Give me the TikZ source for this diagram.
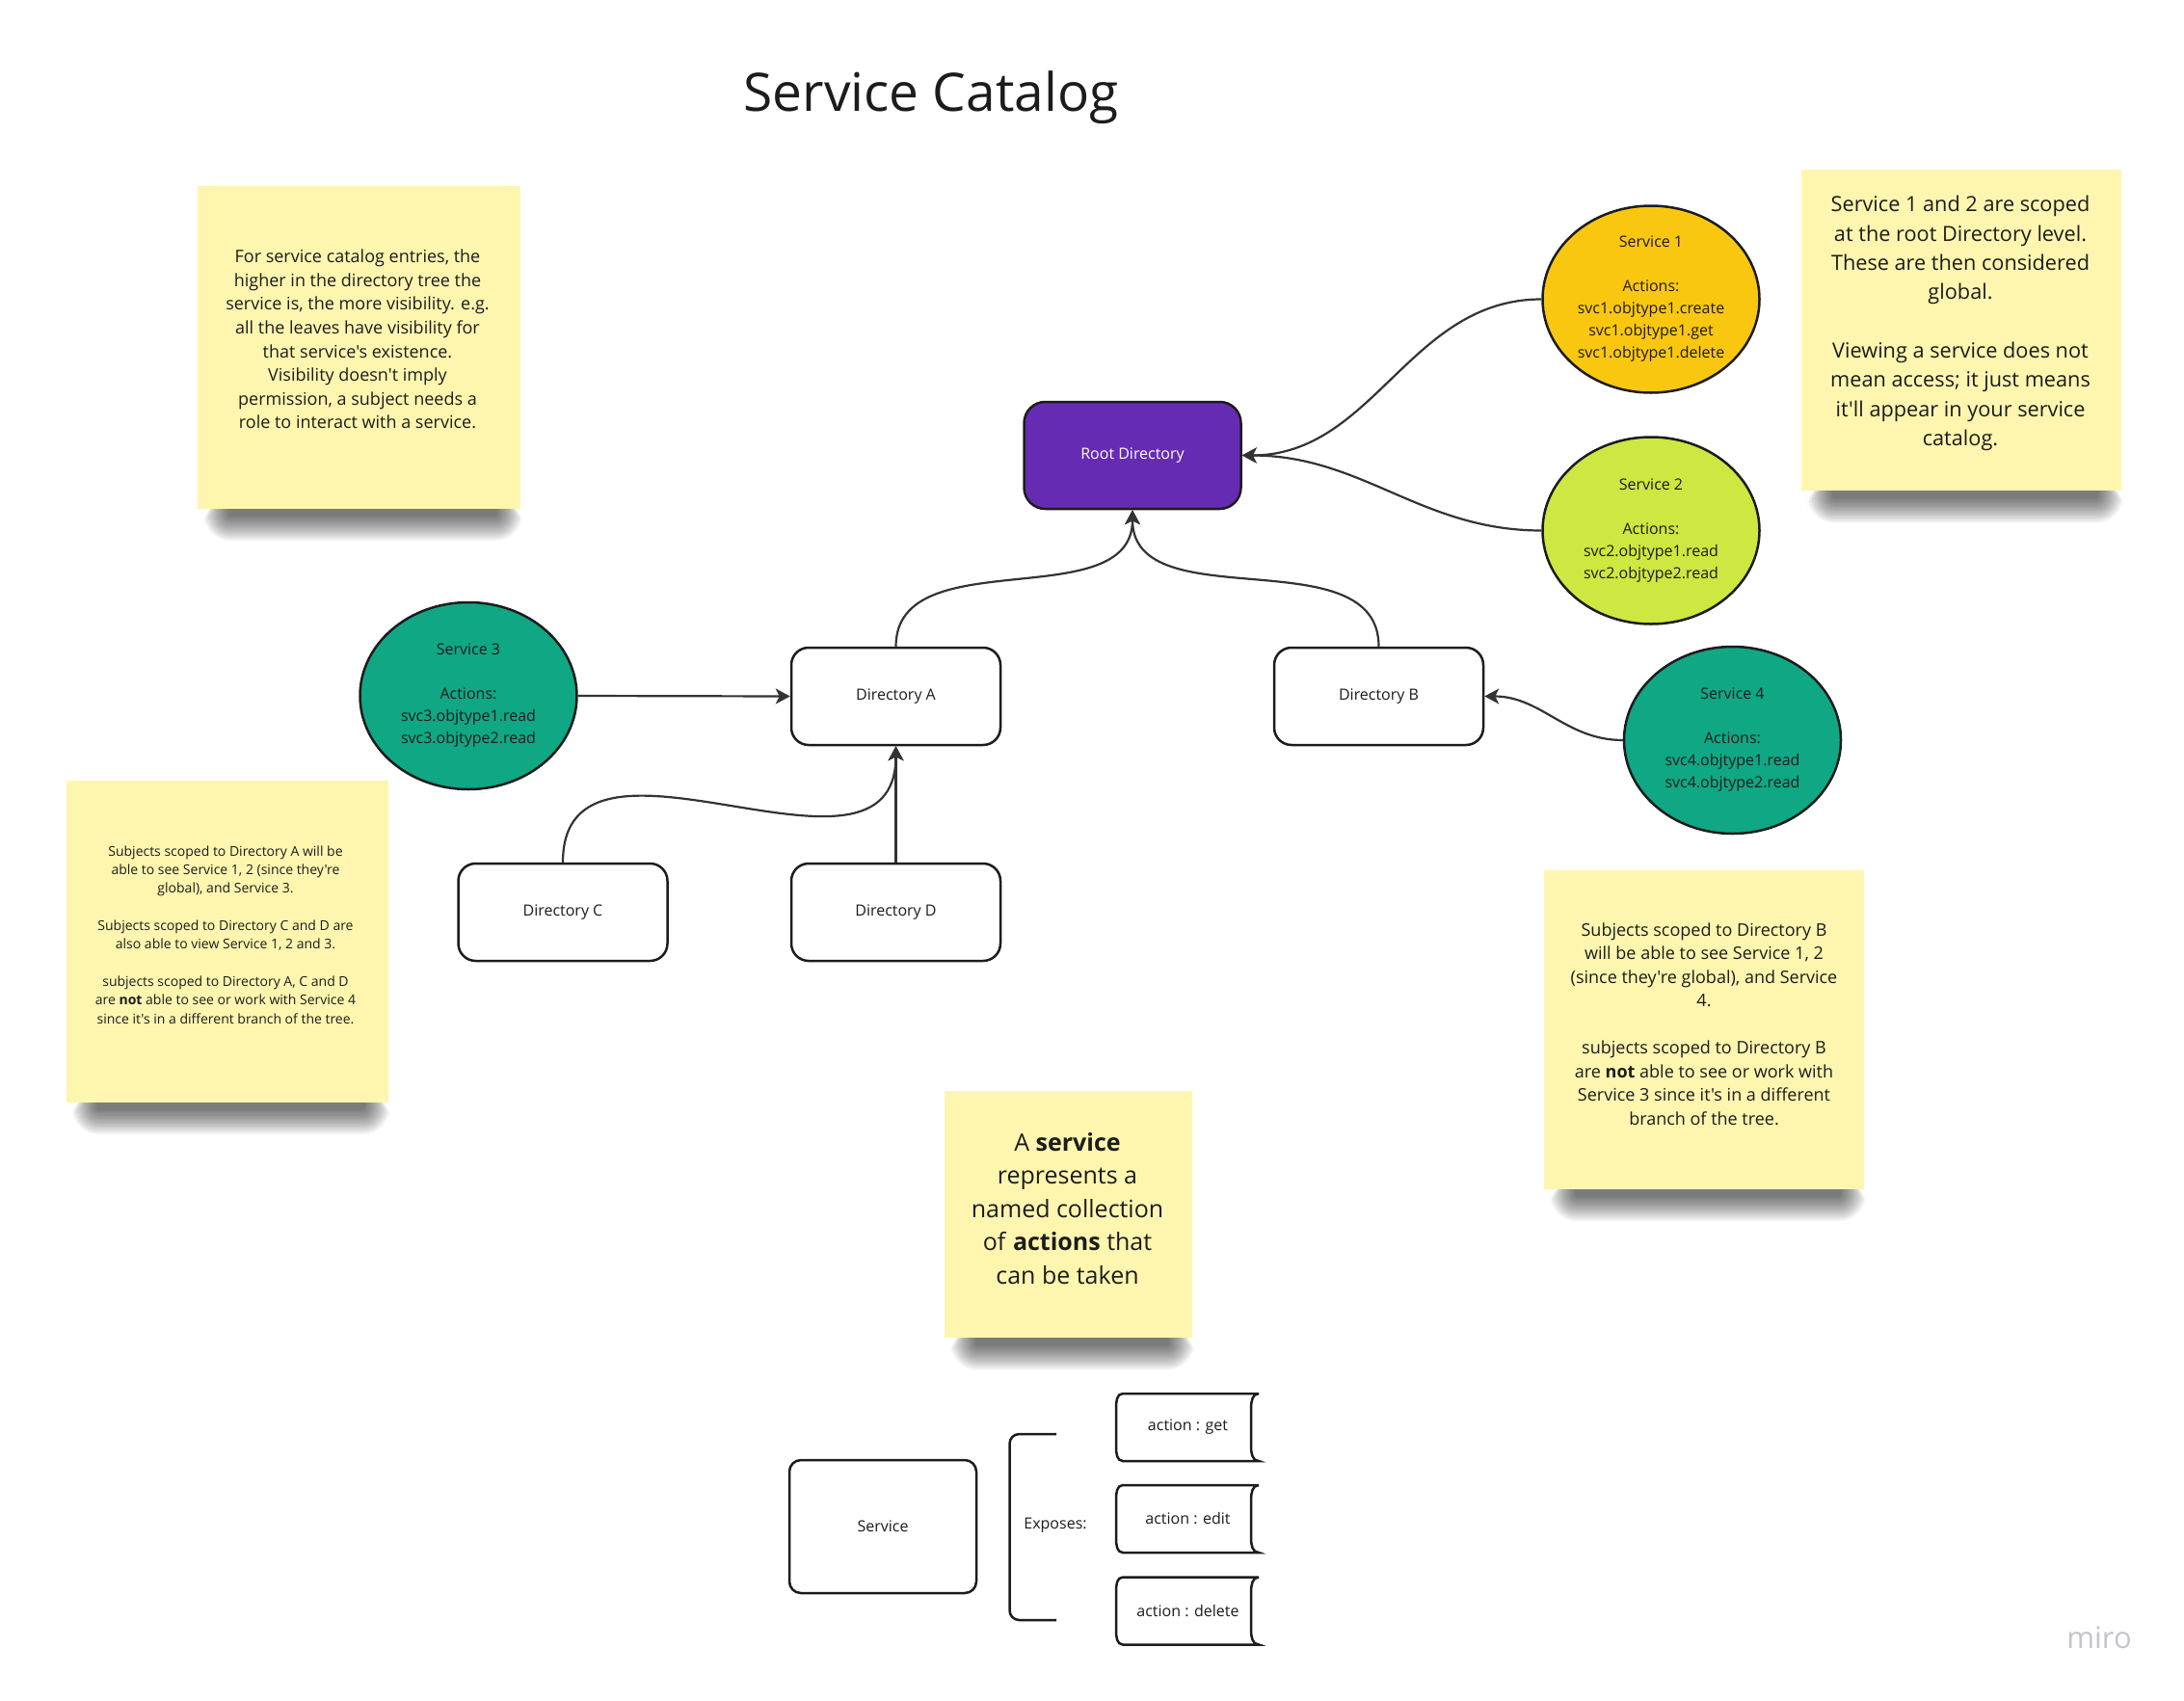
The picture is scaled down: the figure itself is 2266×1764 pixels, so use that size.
\documentclass[tikz,border=0pt]{standalone}
\usepackage{fontspec}
\setmainfont{Open Sans}[Ligatures=TeXOff]
\usetikzlibrary{arrows.meta,shapes.geometric}
\definecolor{stickyY}{HTML}{FEF6AF}
\definecolor{svcyellow}{HTML}{FAC710}
\definecolor{svclime}{HTML}{CEE741}
\definecolor{svcteal}{HTML}{10A784}
\definecolor{rootpurple}{HTML}{652CB3}
\definecolor{linegray}{HTML}{333333}
\definecolor{inkdark}{HTML}{1C1C1C}
\definecolor{miroGray}{HTML}{C4C5CC}
\newcommand{\setfs}[2]{\fontsize{#1pt}{#2pt}\selectfont}
% soft shadow under a sticky note: left x, right x, bottom y
\newcommand{\noteshadow}[3]{%
  \foreach \k [evaluate=\k as \rr using 1.6*\k+2] in {0,...,16} {
    \fill[black, opacity=0.038, rounded corners=\rr pt]
      (#1+32-1.6*\k, #3+10) rectangle (#2-24+1.6*\k, #3-8-1.6*\k);
  }}
\tikzset{
  stickynote/.style={fill=stickyY, draw=none, inner sep=0pt},
  notetext/.style={align=center, inner sep=0pt, text=inkdark},
  dirbox/.style={draw=inkdark, line width=2.5pt, fill=white, rounded corners=18pt,
    minimum width=217pt, minimum height=101pt, inner sep=0pt, text=inkdark,
    font=\setfs{16}{22}},
  svc/.style={ellipse, draw=inkdark, line width=2.5pt, inner sep=0pt, align=center,
    text=inkdark, font=\setfs{16}{23}, minimum width=225pt, minimum height=194pt},
  link/.style={draw=linegray, line width=2.2pt, -{Stealth[length=15pt,width=16pt,inset=4pt]}},
  outline/.style={draw=inkdark, line width=2.5pt},
  plaintext/.style={inner sep=0pt, text=inkdark, font=\setfs{16}{22}},
}
\begin{document}
\begin{tikzpicture}[x=1pt,y=1pt]
\fill[white] (0,0) rectangle (2266,-1764);
\path[use as bounding box] (0,0) rectangle (2266,-1764);

% title
\node[anchor=base, text=inkdark, font=\setfs{55}{66}, inner sep=0pt] (title) at (966,-115) {Service Catalog};

% sticky note shadows
\noteshadow{205}{540}{-527.5}
\noteshadow{1869}{2201}{-509}
\noteshadow{68.5}{402.5}{-1143.5}
\noteshadow{1602}{1934}{-1233.5}
\noteshadow{980}{1237}{-1388}

% sticky notes
\node[stickynote, minimum width=335pt, minimum height=335pt] (n1) at (372.5,-360) {};
\node[notetext, font=\setfs{18}{24.6}] (n1t) at (371,-352) {For service catalog entries, the\\
higher in the directory tree the\\
service is, the more visibility. e.g.\\
all the leaves have visibility for\\
that service's existence.\\
Visibility doesn't imply\\
permission, a subject needs a\\
role to interact with a service.};

\node[stickynote, minimum width=332pt, minimum height=333pt] (n2) at (2035,-342.5) {};
\node[notetext, font=\setfs{21.7}{30.3}] (n2t) at (2034,-335.5) {Service 1 and 2 are scoped\\
at the root Directory level.\\
These are then considered\\
global.\\[30.3pt]
Viewing a service does not\\
mean access; it just means\\
it'll appear in your service\\
catalog.};

\node[stickynote, minimum width=334pt, minimum height=334pt] (n3) at (235.5,-976.5) {};
\node[notetext, font=\setfs{14}{19.3}] (n3t) at (234,-970) {Subjects scoped to Directory A will be\\
able to see Service 1, 2 (since they're\\
global), and Service 3.\\[19.3pt]
Subjects scoped to Directory C and D are\\
also able to view Service 1, 2 and 3.\\[19.3pt]
subjects scoped to Directory A, C and D\\
are \textbf{not} able to see or work with Service 4\\
since it's in a different branch of the tree.};

\node[stickynote, minimum width=332pt, minimum height=331pt] (n4) at (1768,-1068) {};
\node[notetext, font=\setfs{18}{24.5}] (n4t) at (1768,-1062.5) {Subjects scoped to Directory B\\
will be able to see Service 1, 2\\
(since they're global), and Service\\
4.\\[24.5pt]
subjects scoped to Directory B\\
are \textbf{not} able to see or work with\\
Service 3 since it's in a different\\
branch of the tree.};

\node[stickynote, minimum width=257pt, minimum height=256pt] (n5) at (1108.5,-1260) {};
\node[notetext, font=\setfs{25}{34.5}] (n5t) at (1107.5,-1254) {A \textbf{service}\\
represents a\\
named collection\\
of \textbf{actions} that\\
can be taken};

% directories
\node[dirbox, fill=rootpurple, text=white, minimum width=225pt, minimum height=111pt, rounded corners=22pt] (root) at (1175,-472.5) {Root Directory};
\node[dirbox] (dirA) at (929.5,-722.5) {Directory A};
\node[dirbox] (dirB) at (1430.5,-722.5) {Directory B};
\node[dirbox] (dirC) at (584,-946.5) {Directory C};
\node[dirbox] (dirD) at (929.5,-946.5) {Directory D};

% services
\node[svc, fill=svcyellow] (s1) at (1713,-310.5) {Service 1\\[23pt]Actions:\\svc1.objtype1.create\\svc1.objtype1.get\\svc1.objtype1.delete};
\node[svc, fill=svclime] (s2) at (1713,-550.5) {Service 2\\[23pt]Actions:\\svc2.objtype1.read\\svc2.objtype2.read};
\node[svc, fill=svcteal] (s3) at (486,-722) {Service 3\\[23pt]Actions:\\svc3.objtype1.read\\svc3.objtype2.read};
\node[svc, fill=svcteal] (s4) at (1797.5,-768) {Service 4\\[23pt]Actions:\\svc4.objtype1.read\\svc4.objtype2.read};

% connectors
\draw[link] (s1.west) to[out=180,in=0] (root.east);
\draw[link] (s2.west) to[out=180,in=0] (root.east);
\draw[link] (dirA.north) to[out=90,in=-90] (root.south);
\draw[link] (dirB.north) to[out=90,in=-90] (root.south);
\draw[link] (s3.east) -- (dirA.west);
\draw[link] (dirC.north) to[out=90,in=-90,looseness=1.2] (dirA.south);
\draw[link] (dirD.north) -- (dirA.south);
\draw[link] (s4.west) to[out=180,in=0] (dirB.east);

% bottom legend
\node[dirbox, minimum width=194pt, minimum height=138pt, rounded corners=12pt] (svcbox) at (916,-1584) {Service};
\draw[outline, rounded corners=10pt] (1096,-1488) -- (1047.5,-1488) -- (1047.5,-1681) -- (1096,-1681);
\node[plaintext] (expo) at (1095,-1583) {Exposes:};
\foreach \n/\yc/\t in {aget/-1481/get, aedit/-1576/edit, adel/-1671.5/delete} {
  \draw[outline, fill=white] (1306,\yc+35) -- (1165,\yc+35) to[out=180,in=90] (1158,\yc+20)
     -- (1158,\yc-20) to[out=-90,in=180] (1165,\yc-35) -- (1306,\yc-35)
     to[out=180,in=-90] (1298,\yc-20) -- (1298,\yc+20) to[out=90,in=180] (1306,\yc+35);
  \node[plaintext] (\n) at (1232.5,\yc) {action : \t};
}

% watermark
\node[anchor=base, inner sep=0pt, text=miroGray, font=\setfs{31}{36}] (miro) at (2178,-1710) {miro};
\end{tikzpicture}
\end{document}
